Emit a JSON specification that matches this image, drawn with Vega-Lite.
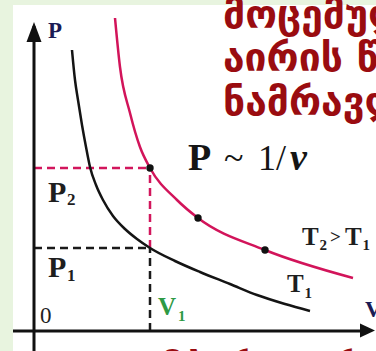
{
  "$schema": "https://vega.github.io/schema/vega-lite/v6.json",
  "autosize": {"type": "none"},
  "width": 363,
  "height": 346,
  "padding": {"left": 13, "top": 5, "right": 0, "bottom": 0},
  "background": "#e8f4df",
  "view": {"fill": "white", "stroke": null},
  "encoding": {
    "x": {"field": "v", "type": "quantitative", "axis": null,
          "scale": {"domain": [-2.1, 34.2], "nice": false, "zero": false}},
    "y": {"field": "p", "type": "quantitative", "axis": null,
          "scale": {"domain": [-2.0, 32.6], "nice": false, "zero": false}}
  },
  "layer": [
    {
      "data": {"values": [
        {"v": 0, "p": 16.3, "v2": 11.6, "p2": 16.3},
        {"v": 11.6, "p": 8.3, "v2": 11.6, "p2": 16.3}
      ]},
      "mark": {"type": "rule", "color": "#d2165c", "strokeWidth": 2.5, "strokeDash": [8, 5]},
      "encoding": {"x2": {"field": "v2"}, "y2": {"field": "p2"}}
    },
    {
      "data": {"values": [
        {"v": 0, "p": 8.3, "v2": 11.6, "p2": 8.3},
        {"v": 11.6, "p": 0, "v2": 11.6, "p2": 8.3}
      ]},
      "mark": {"type": "rule", "color": "#1a1a1a", "strokeWidth": 2.5, "strokeDash": [8, 5]},
      "encoding": {"x2": {"field": "v2"}, "y2": {"field": "p2"}}
    },
    {
      "data": {"values": [
        {"v": 0, "p": -2.0, "v2": 0, "p2": 30.5},
        {"v": -2.1, "p": 0, "v2": 33.0, "p2": 0}
      ]},
      "mark": {"type": "rule", "color": "#111111", "strokeWidth": 3},
      "encoding": {"x2": {"field": "v2"}, "y2": {"field": "p2"}}
    },
    {
      "data": {"values": [{"v": 0, "p": 29.9}]},
      "mark": {"type": "point", "shape": "M0,-1L0.75,1L-0.75,1Z", "size": 400,
               "filled": true, "color": "#111111", "opacity": 1}
    },
    {
      "data": {"values": [{"v": 33.35, "p": 0.05}]},
      "mark": {"type": "point", "shape": "M1,0L-1,-0.93L-1,0.93Z", "size": 225,
               "filled": true, "color": "#111111", "opacity": 1}
    },
    {
      "data": {"values": [
        {"t": "T1", "v": 3.8, "p": 28.1},
        {"t": "T1", "v": 4.1, "p": 25.1},
        {"t": "T1", "v": 4.4, "p": 23.1},
        {"t": "T1", "v": 4.8, "p": 20.6},
        {"t": "T1", "v": 5.2, "p": 18.4},
        {"t": "T1", "v": 5.6, "p": 16.4},
        {"t": "T1", "v": 6.2, "p": 14.6},
        {"t": "T1", "v": 6.9, "p": 13.1},
        {"t": "T1", "v": 7.9, "p": 11.5},
        {"t": "T1", "v": 9.1, "p": 10.2},
        {"t": "T1", "v": 10.3, "p": 9.2},
        {"t": "T1", "v": 11.6, "p": 8.3},
        {"t": "T1", "v": 14.1, "p": 7.0},
        {"t": "T1", "v": 16.6, "p": 5.9},
        {"t": "T1", "v": 19.6, "p": 4.7},
        {"t": "T1", "v": 22.3, "p": 3.6},
        {"t": "T1", "v": 25.1, "p": 2.7},
        {"t": "T1", "v": 27.6, "p": 2.0},
        {"t": "T2", "v": 8.1, "p": 31.3},
        {"t": "T2", "v": 8.6, "p": 26.4},
        {"t": "T2", "v": 9.6, "p": 21.8},
        {"t": "T2", "v": 10.6, "p": 18.4},
        {"t": "T2", "v": 11.6, "p": 16.3},
        {"t": "T2", "v": 14.3, "p": 13.1},
        {"t": "T2", "v": 16.4, "p": 11.3},
        {"t": "T2", "v": 23.1, "p": 8.1},
        {"t": "T2", "v": 31.9, "p": 5.3}
      ]},
      "mark": {"type": "line", "interpolate": "monotone", "strokeWidth": 2.5},
      "encoding": {
        "color": {"field": "t", "type": "nominal", "legend": null,
                  "scale": {"domain": ["T1", "T2"], "range": ["#141414", "#d2145a"]}}
      }
    },
    {
      "data": {"values": [
        {"v": 11.6, "p": 16.3},
        {"v": 16.4, "p": 11.3},
        {"v": 23.1, "p": 8.1}
      ]},
      "mark": {"type": "point", "filled": true, "size": 55, "color": "#111111", "opacity": 1}
    },
    {
      "data": {"values": [
        {"v": 1.4, "p": 29.3, "label": "P"},
        {"v": 33.1, "p": 1.4, "label": "V"}
      ]},
      "mark": {"type": "text", "align": "left", "baseline": "alphabetic",
               "font": "Liberation Serif", "fontWeight": "bold", "fontSize": 23, "color": "#1b1b55"},
      "encoding": {"text": {"field": "label"}}
    },
    {
      "data": {"values": [{"v": 0.6, "p": 0.8, "label": "0"}]},
      "mark": {"type": "text", "align": "left", "baseline": "alphabetic",
               "font": "Liberation Serif", "fontSize": 23, "color": "#222222"},
      "encoding": {"text": {"field": "label"}}
    },
    {
      "data": {"values": [
        {"v": 1.4, "p": 12.9, "label": "P"},
        {"v": 1.4, "p": 5.4, "label": "P"}
      ]},
      "mark": {"type": "text", "align": "left", "baseline": "alphabetic",
               "font": "Liberation Serif", "fontWeight": "bold", "fontSize": 30, "color": "#1e1e1e"},
      "encoding": {"text": {"field": "label"}}
    },
    {
      "data": {"values": [
        {"v": 3.3, "p": 12.6, "label": "2"},
        {"v": 3.3, "p": 5.0, "label": "1"}
      ]},
      "mark": {"type": "text", "align": "left", "baseline": "alphabetic",
               "font": "Liberation Serif", "fontWeight": "bold", "fontSize": 17, "color": "#1e1e1e"},
      "encoding": {"text": {"field": "label"}}
    },
    {
      "data": {"values": [
        {"v": 26.8, "p": 8.6, "label": "T"},
        {"v": 31.1, "p": 8.6, "label": "T"},
        {"v": 25.3, "p": 3.9, "label": "T"}
      ]},
      "mark": {"type": "text", "align": "left", "baseline": "alphabetic",
               "font": "Liberation Serif", "fontWeight": "bold", "fontSize": 25, "color": "#1e1e1e"},
      "encoding": {"text": {"field": "label"}}
    },
    {
      "data": {"values": [{"v": 29.6, "p": 8.8, "label": ">"}]},
      "mark": {"type": "text", "align": "left", "baseline": "alphabetic",
               "font": "Liberation Serif", "fontWeight": "bold", "fontSize": 19, "color": "#1e1e1e"},
      "encoding": {"text": {"field": "label"}}
    },
    {
      "data": {"values": [
        {"v": 28.55, "p": 8.1, "label": "2"},
        {"v": 32.85, "p": 8.1, "label": "1"},
        {"v": 27.05, "p": 3.3, "label": "1"}
      ]},
      "mark": {"type": "text", "align": "left", "baseline": "alphabetic",
               "font": "Liberation Serif", "fontWeight": "bold", "fontSize": 15, "color": "#1e1e1e"},
      "encoding": {"text": {"field": "label"}}
    },
    {
      "data": {"values": [{"v": 12.4, "p": 1.6, "label": "V"}]},
      "mark": {"type": "text", "align": "left", "baseline": "alphabetic",
               "font": "Liberation Serif", "fontWeight": "bold", "fontSize": 25, "color": "#2e9a44"},
      "encoding": {"text": {"field": "label"}}
    },
    {
      "data": {"values": [{"v": 14.4, "p": 1.0, "label": "1"}]},
      "mark": {"type": "text", "align": "left", "baseline": "alphabetic",
               "font": "Liberation Serif", "fontWeight": "bold", "fontSize": 15, "color": "#2e9a44"},
      "encoding": {"text": {"field": "label"}}
    },
    {
      "data": {"values": [{"v": 15.4, "p": 16.1, "label": "P"}]},
      "mark": {"type": "text", "align": "left", "baseline": "alphabetic",
               "font": "Liberation Serif", "fontWeight": "bold", "fontSize": 38, "color": "#151515"},
      "encoding": {"text": {"field": "label"}}
    },
    {
      "data": {"values": [
        {"v": 19.0, "p": 16.1, "label": "~"},
        {"v": 22.4, "p": 16.1, "label": "1/"}
      ]},
      "mark": {"type": "text", "align": "left", "baseline": "alphabetic",
               "font": "Liberation Serif", "fontSize": 36, "color": "#151515"},
      "encoding": {"text": {"field": "label"}}
    },
    {
      "data": {"values": [{"v": 25.6, "p": 16.1, "label": "v"}]},
      "mark": {"type": "text", "align": "left", "baseline": "alphabetic",
               "font": "Liberation Serif", "fontStyle": "italic", "fontWeight": "bold", "fontSize": 38, "color": "#151515"},
      "encoding": {"text": {"field": "label"}}
    },
    {
      "data": {"values": [
        {"v": 18.9, "p": 30.3, "label": "მოცემული"},
        {"v": 18.9, "p": 26.0, "label": "აირის წნევისა"},
        {"v": 18.9, "p": 21.6, "label": "ნამრავლი"},
        {"v": 7.8, "p": -5.0, "label": "ტემპერატურაზე"}
      ]},
      "mark": {"type": "text", "align": "left", "baseline": "alphabetic",
               "font": "DejaVu Sans", "fontWeight": "bold", "fontSize": 39, "color": "#9a0c10"},
      "encoding": {"text": {"field": "label"}}
    }
  ]
}
